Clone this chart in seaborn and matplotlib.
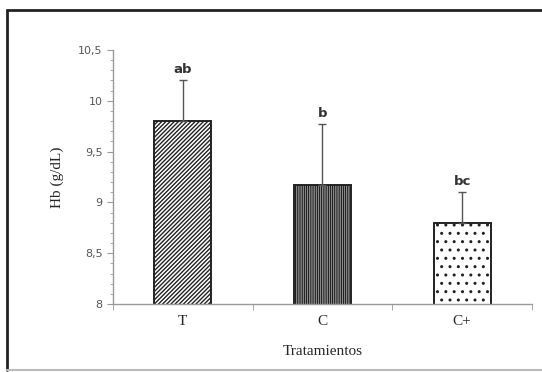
import numpy as np
import pandas as pd
import matplotlib
matplotlib.use("Agg")
import matplotlib.pyplot as plt
import seaborn as sns
from matplotlib.lines import Line2D
from matplotlib.ticker import FixedLocator, FixedFormatter, MultipleLocator

sns.set_style("white")

# data
treatments = ["T", "C", "C+"]
hb_mean = [9.8, 9.17, 8.8]
hb_sd = [0.4, 0.6, 0.3]
letters = ["ab", "b", "bc"]
ytick_vals = [8, 8.5, 9, 9.5, 10, 10.5]
ytick_labels = ["8", "8,5", "9", "9,5", "10", "10,5"]

df = pd.DataFrame({"Tratamiento": treatments, "Hb": hb_mean, "sd": hb_sd})

plt.rcParams['hatch.linewidth'] = 1.0
fig = plt.figure(figsize=(5.42, 3.72), dpi=100)
ax = fig.add_axes([0.2085, 0.1828, 0.773, 0.6828])

sns.barplot(data=df, x="Tratamiento", y="Hb", color="white", edgecolor="#222222",
            linewidth=1.4, width=0.41, errorbar=None, ax=ax)

hatches = ["////////", "|||||||||", ".."]
for patch, h in zip(ax.patches, hatches):
    patch.set_hatch(h)
    patch.set_zorder(2)

ax.errorbar(np.arange(len(treatments)), df["Hb"],
            yerr=[np.zeros(len(treatments)), df["sd"]],
            fmt="none", ecolor="#555555", elinewidth=1.0, capsize=3, capthick=1.0, zorder=3)

for i, (m, s, t) in enumerate(zip(hb_mean, hb_sd, letters)):
    ax.text(i, m + s + 0.04, t, ha="center", va="bottom", fontsize=9.5,
            fontweight="semibold", color="#333333", family="DejaVu Sans")

ax.set_ylim(8, 10.5)
ax.set_xlim(-0.5, 2.5)
ax.yaxis.set_major_locator(FixedLocator(ytick_vals))
ax.yaxis.set_major_formatter(FixedFormatter(ytick_labels))
ax.yaxis.set_minor_locator(MultipleLocator(0.1))

ax.xaxis.set_minor_locator(FixedLocator([-0.5, 0.5, 1.5, 2.5]))
ax.tick_params(axis="x", which="major", length=0, pad=8, labelsize=11)
ax.tick_params(axis="x", which="minor", length=4, color="#999999", direction="out", bottom=True)
ax.tick_params(axis="y", which="major", length=4, color="#999999", direction="out", left=True,
               labelsize=8, labelcolor="#555555")
ax.tick_params(axis="y", which="minor", length=2, color="#999999", direction="out", left=True)
for lbl in ax.get_xticklabels():
    lbl.set_family("Liberation Serif")

sns.despine(ax=ax)
for sp in ["left", "bottom"]:
    ax.spines[sp].set_color("#999999")
    ax.spines[sp].set_linewidth(1.0)

ax.set_xlabel("Tratamientos", family="Liberation Serif", fontsize=11, labelpad=12)
ax.set_ylabel("Hb (g/dL)", family="Liberation Serif", fontsize=11, labelpad=10)

# outer frame
fig.add_artist(Line2D([7 / 542, 1.0], [1 - 10 / 372, 1 - 10 / 372], color="#222222", lw=2))
fig.add_artist(Line2D([7 / 542, 7 / 542], [1 - 10 / 372, 1 - 370 / 372], color="#222222", lw=2))
fig.add_artist(Line2D([7 / 542, 1.0], [1 - 370 / 372, 1 - 370 / 372], color="#bbbbbb", lw=1.5))

fig.savefig("out.png", dpi=100)
